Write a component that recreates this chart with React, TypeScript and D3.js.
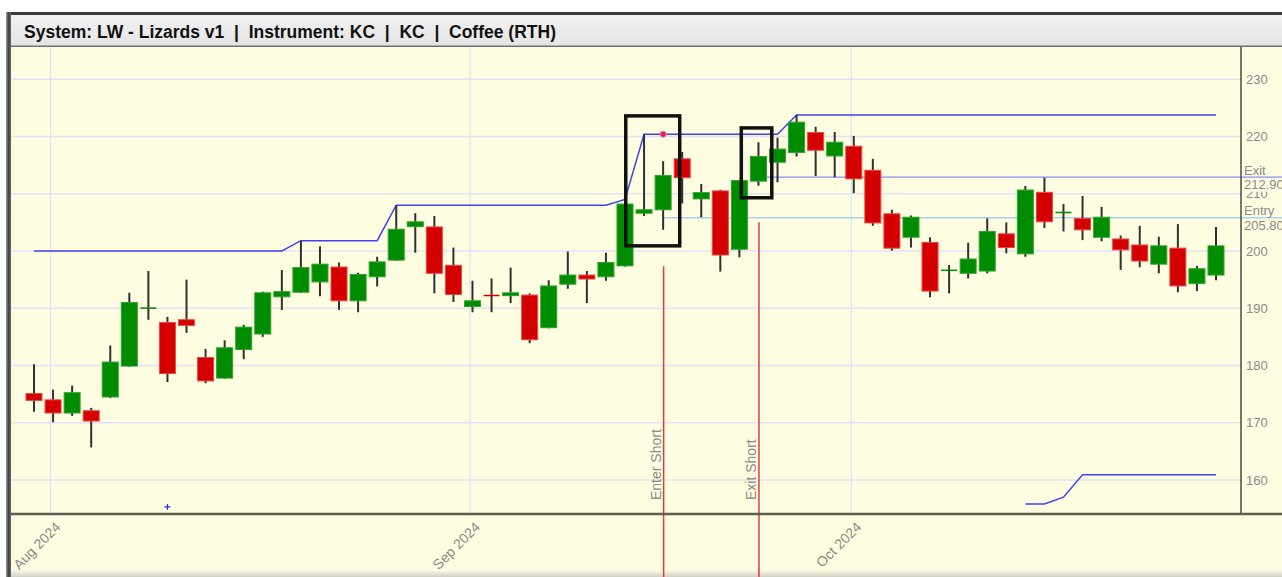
import React from 'react';
import * as d3 from 'd3';

const dates = [
  '2024-07-31',
  '2024-08-01', '2024-08-02', '2024-08-05', '2024-08-06', '2024-08-07', '2024-08-08', '2024-08-09',
  '2024-08-12', '2024-08-13', '2024-08-14', '2024-08-15', '2024-08-16', '2024-08-19', '2024-08-20',
  '2024-08-21', '2024-08-22', '2024-08-23', '2024-08-26', '2024-08-27', '2024-08-28', '2024-08-29',
  '2024-08-30',
  '2024-09-03', '2024-09-04', '2024-09-05', '2024-09-06', '2024-09-09', '2024-09-10', '2024-09-11',
  '2024-09-12', '2024-09-13', '2024-09-16', '2024-09-17', '2024-09-18', '2024-09-19', '2024-09-20',
  '2024-09-23', '2024-09-24', '2024-09-25', '2024-09-26', '2024-09-27', '2024-09-30',
  '2024-10-01', '2024-10-02', '2024-10-03', '2024-10-04', '2024-10-07', '2024-10-08', '2024-10-09',
  '2024-10-10', '2024-10-11', '2024-10-14', '2024-10-15', '2024-10-16', '2024-10-17', '2024-10-18',
  '2024-10-21', '2024-10-22', '2024-10-23', '2024-10-24', '2024-10-25', '2024-10-28',
];

const opens = [
  175.1, 174.0, 171.7, 172.1, 174.5, 179.9, 190.0, 187.5, 188.0, 181.4,
  177.8, 182.8, 185.5, 192.0, 192.8, 194.6, 197.2, 191.3, 195.5, 198.4,
  204.25, 204.2, 197.5, 190.3, 192.25, 192.2, 192.3, 186.6, 194.2, 195.8,
  195.5, 197.4, 206.6, 207.2, 216.1, 209.1, 210.5, 200.3, 212.2, 215.5,
  217.2, 220.7, 216.6, 218.3, 214.1, 206.5, 202.4, 201.5, 196.6, 196.1,
  196.5, 203.0, 199.5, 210.25, 206.7, 205.7, 202.4, 202.1, 201.05, 197.7,
  200.5, 194.3, 195.8,
];
const highs = [
  180.2, 175.8, 176.5, 172.6, 183.5, 192.7, 196.5, 188.5, 195.0, 182.9,
  184.4, 187.1, 192.9, 196.7, 201.8, 200.8, 198.0, 196.2, 199.0, 208.0,
  206.6, 206.1, 200.6, 194.8, 195.2, 197.1, 192.6, 194.9, 199.9, 196.5,
  199.7, 209.0, 220.4, 215.7, 217.3, 211.7, 210.7, 212.4, 219.0, 219.8,
  223.75, 221.7, 220.8, 220.1, 216.1, 207.2, 206.2, 202.4, 197.55, 201.45,
  205.7, 205.0, 211.35, 212.8, 208.2, 209.6, 207.7, 202.7, 204.4, 202.5,
  204.7, 197.4, 204.2,
];
const lows = [
  171.9, 170.1, 171.2, 165.7, 174.3, 179.8, 188.0, 177.1, 185.7, 176.9,
  177.7, 181.1, 185.0, 189.7, 192.7, 192.1, 189.7, 189.3, 193.8, 198.3,
  199.7, 192.6, 191.1, 189.3, 189.3, 190.9, 183.9, 186.5, 193.4, 190.9,
  194.8, 197.3, 206.1, 203.7, 208.3, 205.9, 196.4, 198.9, 211.4, 212.0,
  216.5, 213.1, 212.9, 210.1, 204.4, 200.05, 200.6, 191.9, 192.6, 195.2,
  196.1, 199.6, 199.0, 204.0, 203.4, 201.9, 201.7, 196.7, 197.15, 196.1,
  192.8, 193.0, 194.9,
];
const closes = [
  173.9, 171.7, 175.25, 170.3, 180.6, 191.0, 190.05, 178.6, 187.0, 177.3,
  183.1, 186.7, 192.7, 192.9, 197.1, 197.7, 191.3, 195.9, 198.1, 203.8,
  205.1, 196.1, 192.4, 191.3, 192.2, 192.7, 184.5, 193.9, 195.8, 195.1,
  198.0, 208.2, 207.2, 213.2, 212.8, 210.2, 199.3, 212.3, 216.5, 217.8,
  222.5, 217.6, 219.0, 212.6, 204.9, 200.5, 205.9, 193.0, 196.65, 198.6,
  203.4, 200.6, 210.65, 205.1, 206.75, 203.7, 205.9, 200.2, 198.25, 200.9,
  193.9, 196.9, 200.9,
];

const upperChannel = [
  200.0, 200.0, 200.0, 200.0, 200.0, 200.0, 200.0, 200.0, 200.0, 200.0,
  200.0, 200.0, 200.0, 200.0, 201.8, 201.8, 201.8, 201.8, 201.8, 208.0,
  208.0, 208.0, 208.0, 208.0, 208.0, 208.0, 208.0, 208.0, 208.0, 208.0,
  208.0, 209.0, 220.4, 220.4, 220.4, 220.4, 220.4, 220.4, 220.4, 220.4,
  223.75, 223.75, 223.75, 223.75, 223.75, 223.75, 223.75, 223.75, 223.75, 223.75,
  223.75, 223.75, 223.75, 223.75, 223.75, 223.75, 223.75, 223.75, 223.75, 223.75,
  223.75, 223.75, 223.75,
];
const lowerChannel: (number | null)[] = [
  null, null, null, null, null, null, null, null, null, null,
  null, null, null, null, null, null, null, null, null, null,
  null, null, null, null, null, null, null, null, null, null,
  null, null, null, null, null, null, null, null, null, null,
  null, null, null, null, null, null, null, null, null, null,
  null, null, 155.8, 155.8, 157.0, 160.9, 160.9, 160.9, 160.9, 160.9,
  160.9, 160.9, 160.9,
];

const priceTicks = [160, 170, 180, 190, 200, 210, 220, 230];
const titleText = 'System: LW - Lizards v1  |  Instrument: KC  |  KC  |  Coffee (RTH)';

const tradeLevels = [
  { index: 33, price: 205.8, label: 'Entry', signal: 'Enter Short', color: '#a6d2f2' },
  { index: 38, price: 212.9, label: 'Exit', signal: 'Exit Short', color: '#8c8cf6' },
];
const stopMarker = { index: 33, price: 220.4 };
const crossMarker = { index: 7, price: 155.3 };
const highlightBoxes = [
  { i0: 31.04, i1: 33.87, top: 223.6, bottom: 200.9 },
  { i0: 37.1, i1: 38.7, top: 221.5, bottom: 209.3 },
];

const W = 1282;
const H = 577;
const plotLeft = 11;
const plotRight = 1241;
const plotTop = 47;
const plotBottom = 514;
const FONT = '"Liberation Sans", Arial, Helvetica, sans-serif';
const CREAM = '#fffde1';
const GRID = '#e0e3f4';
const AXIS_TEXT = '#8a8a8a';

export default function App() {
  const x = d3.scaleLinear().domain([0, dates.length - 1]).range([34, 1216]);
  const y = d3.scaleLinear().domain([160, 230]).range([480, 79.25]);
  const step = x(1) - x(0);
  const bodyW = step * 0.84;

  const parse = d3.timeParse('%Y-%m-%d');
  const fmt = d3.timeFormat('%b %Y');
  const parsed = dates.map((d) => parse(d) as Date);
  const monthTicks = parsed
    .map((d, i) => ({ d, i }))
    .filter(({ d, i }) => i > 0 && d.getMonth() !== parsed[i - 1].getMonth());

  const upperLine = d3
    .line<number>()
    .x((_, i) => x(i))
    .y((v) => y(v));
  const lowerLine = d3
    .line<number | null>()
    .defined((v) => v != null)
    .x((_, i) => x(i))
    .y((v) => y(v as number));

  return (
    <div style={{ position: 'absolute', left: 0, top: 0 }}>
      <svg width={W} height={H} style={{ display: 'block', fontFamily: FONT }}>
        <defs>
          <linearGradient id="titleGrad" x1="0" y1="0" x2="0" y2="1">
            <stop offset="0" stopColor="#f2f2f2" />
            <stop offset="1" stopColor="#e4e4e4" />
          </linearGradient>
          <linearGradient id="leftGrad" x1="0" y1="0" x2="1" y2="0">
            <stop offset="0" stopColor="#9a9a9a" />
            <stop offset="0.5" stopColor="#444" />
            <stop offset="1" stopColor="#666" />
          </linearGradient>
          <linearGradient id="bottomGrad" x1="0" y1="0" x2="0" y2="1">
            <stop offset="0" stopColor={CREAM} />
            <stop offset="1" stopColor="#cfcfc8" />
          </linearGradient>
          <clipPath id="plotClip">
            <rect x={plotLeft} y={plotTop} width={plotRight - plotLeft} height={plotBottom - plotTop} />
          </clipPath>
        </defs>

        <rect x={0} y={0} width={W} height={H} fill="#ffffff" />
        <rect x={6} y={12} width={W - 6} height={H - 12} fill={CREAM} />
        <rect x={6} y={570} width={W - 6} height={7} fill="url(#bottomGrad)" />

        {/* title bar */}
        <rect x={6} y={15} width={W - 6} height={31} fill="url(#titleGrad)" />
        <rect x={6} y={12} width={W - 6} height={3} fill="#3a3a3a" />
        <rect x={6} y={45.5} width={W - 6} height={1.5} fill="#707070" />
        <text x={24} y={38} fontSize={17.5} fontWeight="bold" fill="#111" style={{ whiteSpace: 'pre' }}>
          {titleText}
        </text>

        {/* gridlines */}
        <g clipPath="url(#plotClip)">
          {priceTicks.map((t) => (
            <line key={t} x1={plotLeft} x2={plotRight} y1={y(t)} y2={y(t)} stroke={GRID} strokeWidth={1.3} />
          ))}
          {monthTicks.map(({ i }) => (
            <line key={i} x1={x(i - 0.13)} x2={x(i - 0.13)} y1={plotTop} y2={plotBottom} stroke={GRID} strokeWidth={1.3} />
          ))}
        </g>

        {/* trade level lines */}
        {tradeLevels.map((t) => (
          <line key={t.label} x1={x(t.index)} x2={W} y1={y(t.price)} y2={y(t.price)} stroke={t.color} strokeWidth={1.4} />
        ))}

        {/* channels */}
        <path d={upperLine(upperChannel) || ''} fill="none" stroke="#4242f2" strokeWidth={1.5} />
        <path d={lowerLine(lowerChannel) || ''} fill="none" stroke="#4242f2" strokeWidth={1.5} />

        {/* candles */}
        {dates.map((d, i) => {
          const o = opens[i];
          const c = closes[i];
          const up = c >= o;
          const cx = x(i);
          const top = y(Math.max(o, c));
          const bot = y(Math.min(o, c));
          const h = Math.max(1.5, bot - top);
          return (
            <g key={d}>
              <line x1={cx} x2={cx} y1={y(highs[i])} y2={y(lows[i])} stroke="#303030" strokeWidth={2} />
              <rect
                x={cx - bodyW / 2}
                y={h === 1.5 ? (top + bot) / 2 - 0.75 : top}
                width={bodyW}
                height={h}
                fill={up ? '#008c00' : '#d40000'}
                stroke={h === 1.5 ? 'none' : up ? '#2ea22e' : '#e84848'}
                strokeWidth={1}
              />
            </g>
          );
        })}

        {/* signal lines */}
        {tradeLevels.map((t) => (
          <g key={t.signal}>
            <line
              x1={x(t.index) + 0.5}
              x2={x(t.index) + 0.5}
              y1={y(lows[t.index]) + 36.5}
              y2={H}
              stroke="#e03a3a"
              strokeWidth={1.5}
            />
            <text
              transform={`translate(${x(t.index) - 2},500) rotate(-90)`}
              fontSize={14}
              fill={AXIS_TEXT}
              textAnchor="start"
            >
              {t.signal}
            </text>
          </g>
        ))}

        {/* markers */}
        <circle cx={x(stopMarker.index)} cy={y(stopMarker.price)} r={3} fill="#e8204a" stroke="#f07090" strokeWidth={1} />
        <g stroke="#3030f0" strokeWidth={1.3}>
          <line x1={x(crossMarker.index) - 3} x2={x(crossMarker.index) + 3} y1={y(crossMarker.price)} y2={y(crossMarker.price)} />
          <line x1={x(crossMarker.index)} x2={x(crossMarker.index)} y1={y(crossMarker.price) - 3} y2={y(crossMarker.price) + 3} />
        </g>

        {/* highlight boxes */}
        {highlightBoxes.map((b, k) => (
          <rect
            key={k}
            x={x(b.i0)}
            y={y(b.top)}
            width={x(b.i1) - x(b.i0)}
            height={y(b.bottom) - y(b.top)}
            fill="none"
            stroke="#111"
            strokeWidth={3.5}
          />
        ))}

        {/* axes frame */}
        <line x1={plotRight} x2={plotRight} y1={plotTop} y2={plotBottom} stroke="#4a4a4a" strokeWidth={1.5} />
        <line x1={plotLeft} x2={W} y1={plotBottom} y2={plotBottom} stroke="#5e5e54" strokeWidth={2.5} />
        <rect x={6} y={12} width={5} height={H - 12} fill="url(#leftGrad)" />

        {/* price axis */}
        {priceTicks.map((t) => (
          <text key={t} x={1246} y={y(t)} dy="0.35em" fontSize={13} fill={AXIS_TEXT}>
            {t}
          </text>
        ))}
        {tradeLevels.map((t) => (
          <g key={'lbl' + t.label}>
            <rect x={1243} y={y(t.price) + 1} width={W - 1243} height={t.label === 'Exit' ? 13.5 : 12} fill={CREAM} />
            <text x={1244} y={y(t.price) - 2.5} fontSize={13} fill={AXIS_TEXT}>
              {t.label}
            </text>
            <text x={1244} y={y(t.price) + 12} fontSize={13} fill={AXIS_TEXT}>
              {t.price.toFixed(2)}
            </text>
          </g>
        ))}

        {/* month labels */}
        {monthTicks.map(({ d, i }) => (
          <text
            key={'m' + i}
            transform={`translate(${x(i - 0.13) + 11},528) rotate(-45)`}
            fontSize={14}
            fill={AXIS_TEXT}
            textAnchor="end"
          >
            {fmt(d)}
          </text>
        ))}
      </svg>
    </div>
  );
}
